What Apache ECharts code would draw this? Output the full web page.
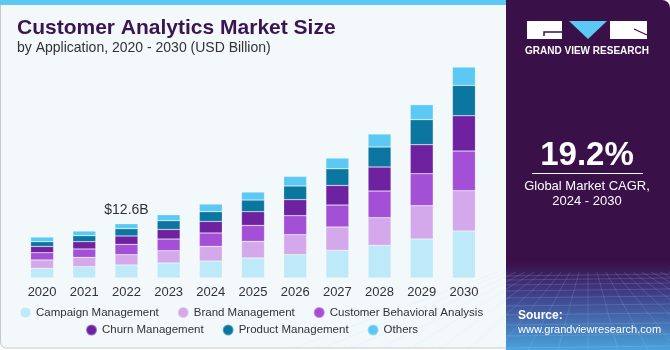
<!DOCTYPE html>
<html>
<head>
<meta charset="utf-8">
<script src="https://cdn.jsdelivr.net/npm/echarts@6/dist/echarts.min.js"></script>
<style>
  html, body { margin: 0; padding: 0; background: #ffffff; }
  #main { width: 670px; height: 350px; }
</style>
</head>
<body>
<div id="main"></div>
<script>
// 年份
var years = ["2020", "2021", "2022", "2023", "2024", "2025", "2026", "2027", "2028", "2029", "2030"];

// 各应用市场规模 (USD Billion)
var campaignManagement = [2.23, 2.62, 3.02, 3.48, 3.94, 4.64, 5.41, 6.40, 7.56, 9.05, 10.9];
var brandManagement = [1.95, 2.16, 2.39, 2.85, 3.39, 3.85, 4.64, 5.43, 6.43, 7.73, 9.35];
var customerBehavioral = [1.69, 1.95, 2.39, 2.71, 3.11, 3.71, 4.41, 5.10, 6.19, 7.42, 9.21];
var churnManagement = [1.46, 1.69, 1.95, 2.23, 2.69, 3.18, 3.71, 4.55, 5.57, 6.73, 8.19];
var productManagement = [1.09, 1.39, 1.69, 2.02, 2.25, 2.71, 3.18, 3.87, 4.64, 5.80, 7.03];
var others = [1.09, 1.09, 1.16, 1.39, 1.79, 1.86, 2.23, 2.48, 3.02, 3.48, 4.27];

var seriesNames = ["Campaign Management", "Brand Management", "Customer Behavioral Analysis",
  "Churn Management", "Product Management", "Others"];
var seriesColors = ["#bde9f8", "#d4a9ec", "#a350d6", "#6e22a0", "#0b76a0", "#5cc9f5"];

// 标注
var calloutIndex = 2;
var calloutText = "$12.6B";

var fontFamily = "Liberation Sans, Arial, sans-serif";

function makeSeries(name, data, color, isTop) {
  var values = data.map(function (v, i) {
    if (isTop && i === calloutIndex) {
      return {
        value: v,
        label: {
          show: true,
          position: "top",
          distance: 7,
          formatter: calloutText,
          color: "#333333",
          fontSize: 14,
          fontFamily: fontFamily
        }
      };
    }
    return v;
  });
  return {
    name: name,
    type: "bar",
    stack: "total",
    barWidth: 23,
    itemStyle: {
      color: color,
      borderColor: "rgba(255,255,255,0.35)",
      borderWidth: 0.6
    },
    data: values
  };
}

// 右侧面板底部网格纹理（装饰）
function meshLines() {
  var items = [];
  var ys = [276, 280, 285, 291, 298, 306, 315, 325, 336, 348];
  ys.forEach(function (y) {
    items.push({
      type: "line",
      z: -6,
      shape: { x1: 506, y1: y, x2: 670, y2: y - 2 },
      style: { stroke: "rgba(200,225,255,0.22)", lineWidth: 0.8 }
    });
  });
  for (var k = -10; k <= 10; k++) {
    items.push({
      type: "line",
      z: -6,
      shape: { x1: 588 + k * 9, y1: 272, x2: 588 + k * 30, y2: 350 },
      style: { stroke: "rgba(200,225,255,0.2)", lineWidth: 0.8 }
    });
  }
  return items;
}

var myChart = echarts.init(document.getElementById("main"));

var panelX = 506;

var legendText = { color: "#333333", fontSize: 11.5, fontFamily: fontFamily };

myChart.setOption({
  animation: false,
  backgroundColor: "#ffffff",
  grid: {
    left: 21,
    right: 185,
    top: 62.5,
    bottom: 72
  },
  xAxis: {
    type: "category",
    data: years,
    axisLine: { show: false },
    axisTick: { show: false },
    axisLabel: {
      color: "#333333",
      fontSize: 13,
      fontFamily: fontFamily,
      margin: 8
    }
  },
  yAxis: {
    type: "value",
    min: 0,
    max: 50,
    show: false,
    splitLine: { show: false }
  },
  legend: [
    {
      data: seriesNames.slice(0, 3),
      left: 14,
      top: 301,
      icon: "circle",
      itemWidth: 11,
      itemHeight: 11,
      itemGap: 18,
      textStyle: legendText
    },
    {
      data: seriesNames.slice(3),
      left: 80,
      top: 318.5,
      icon: "circle",
      itemWidth: 11,
      itemHeight: 11,
      itemGap: 18,
      textStyle: legendText
    }
  ],
  graphic: [
    // 卡片背景
    {
      type: "rect",
      z: -10,
      shape: { x: 0.5, y: 0, width: panelX + 8, height: 348, r: [0, 0, 0, 6] },
      style: { fill: "#f3f8fb", stroke: "#c8c8c8", lineWidth: 1 }
    },
    {
      type: "rect",
      z: -9,
      shape: { x: 0, y: 0, width: panelX, height: 5 },
      style: { fill: "#5cc8f3" }
    },
    // 标题
    {
      type: "text",
      left: 17,
      top: 18,
      style: {
        text: "Customer Analytics Market Size",
        fill: "#3b1452",
        font: "bold 21px " + fontFamily
      }
    },
    {
      type: "text",
      left: 17,
      top: 41,
      style: {
        text: "by Application, 2020 - 2030 (USD Billion)",
        fill: "#333333",
        font: "14px " + fontFamily
      }
    },
    // 右侧面板
    {
      type: "rect",
      z: -8,
      shape: { x: panelX, y: 0, width: 670 - panelX, height: 350, r: [0, 8, 0, 0] },
      style: { fill: "#3a1049" }
    },
    {
      type: "rect",
      z: -7,
      shape: { x: panelX, y: 262, width: 670 - panelX, height: 88 },
      style: {
        fill: new echarts.graphic.LinearGradient(0, 0, 0, 1, [
          { offset: 0, color: "#3a1049" },
          { offset: 0.35, color: "#3f3c86" },
          { offset: 1, color: "#4aa2dc" }
        ])
      }
    }
  ].concat(meshLines()).concat([
    // logo
    {
      type: "rect",
      shape: { x: 527, y: 21, width: 35, height: 18 },
      style: { fill: "#ffffff" }
    },
    {
      type: "polyline",
      shape: { points: [[544, 36], [544, 32], [562, 32]] },
      style: { stroke: "#3a1049", lineWidth: 1.5, fill: null }
    },
    {
      type: "polygon",
      shape: { points: [[569, 21], [607, 21], [588, 39]] },
      style: { fill: "#5cc8f5" }
    },
    {
      type: "rect",
      shape: { x: 610, y: 21, width: 37, height: 18 },
      style: { fill: "#ffffff" }
    },
    {
      type: "line",
      shape: { x1: 634, y1: 29, x2: 647, y2: 35 },
      style: { stroke: "#3a1049", lineWidth: 1.2 }
    },
    {
      type: "text",
      x: 587,
      y: 51,
      style: {
        text: "GRAND VIEW RESEARCH",
        fill: "#ffffff",
        font: "bold 10px " + fontFamily,
        align: "center",
        verticalAlign: "middle"
      }
    },
    // CAGR
    {
      type: "text",
      x: 587,
      y: 156,
      style: {
        text: "19.2%",
        fill: "#ffffff",
        font: "bold 33px " + fontFamily,
        align: "center",
        verticalAlign: "middle"
      }
    },
    {
      type: "line",
      shape: { x1: 532, y1: 173.5, x2: 643, y2: 173.5 },
      style: { stroke: "#ffffff", lineWidth: 1 }
    },
    {
      type: "text",
      x: 587,
      y: 186,
      style: {
        text: "Global Market CAGR,",
        fill: "#ffffff",
        font: "13px " + fontFamily,
        align: "center",
        verticalAlign: "middle"
      }
    },
    {
      type: "text",
      x: 587,
      y: 201,
      style: {
        text: "2024 - 2030",
        fill: "#ffffff",
        font: "13px " + fontFamily,
        align: "center",
        verticalAlign: "middle"
      }
    },
    // 来源
    {
      type: "text",
      x: 518,
      y: 316,
      style: {
        text: "Source:",
        fill: "#ffffff",
        font: "bold 12px " + fontFamily,
        verticalAlign: "middle"
      }
    },
    {
      type: "text",
      x: 518,
      y: 330,
      style: {
        text: "www.grandviewresearch.com",
        fill: "#ffffff",
        font: "11px " + fontFamily,
        verticalAlign: "middle"
      }
    }
  ]),
  series: [
    makeSeries(seriesNames[0], campaignManagement, seriesColors[0], false),
    makeSeries(seriesNames[1], brandManagement, seriesColors[1], false),
    makeSeries(seriesNames[2], customerBehavioral, seriesColors[2], false),
    makeSeries(seriesNames[3], churnManagement, seriesColors[3], false),
    makeSeries(seriesNames[4], productManagement, seriesColors[4], false),
    makeSeries(seriesNames[5], others, seriesColors[5], true)
  ]
});
</script>
</body>
</html>
